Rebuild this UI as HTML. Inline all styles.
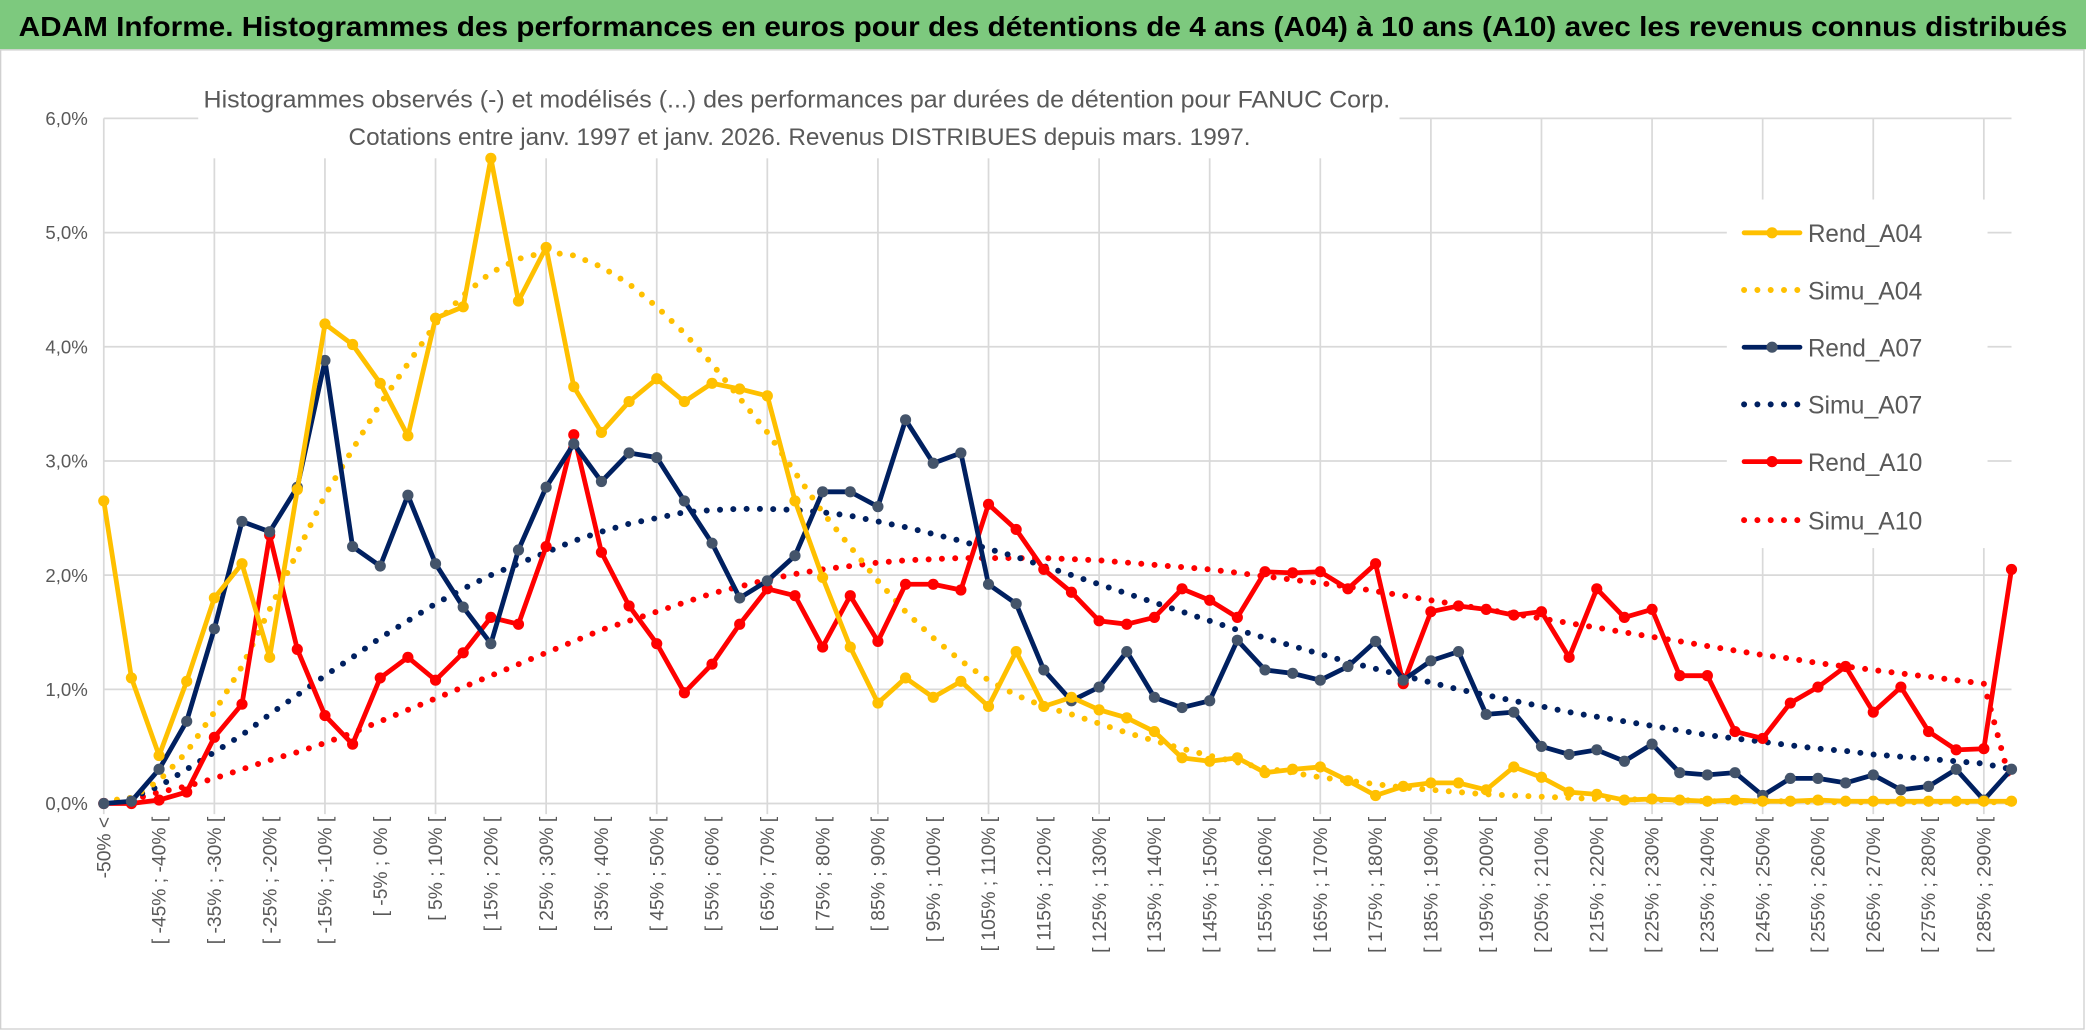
<!DOCTYPE html>
<html><head><meta charset="utf-8"><style>
html,body{margin:0;padding:0;background:#fff;}
svg{display:block;font-family:"Liberation Sans",sans-serif;}
</style></head><body>
<svg id="chart" width="2086" height="1031" viewBox="0 0 1568 775" preserveAspectRatio="none" xmlns="http://www.w3.org/2000/svg">
<rect x="0" y="0" width="1568" height="775" fill="#fff"/>
<rect x="0" y="0" width="1568" height="37" fill="#7DC97E"/>
<text x="14" y="27" font-size="21" font-weight="bold" fill="#000" textLength="1540" lengthAdjust="spacingAndGlyphs">ADAM Informe. Histogrammes des performances en euros pour des détentions de 4 ans (A04) à 10 ans (A10) avec les revenus connus distribués</text>
<rect x="0.5" y="37.5" width="1566" height="736" fill="none" stroke="#d0d0d0" stroke-width="1"/>
<g id="grid"></g>
<g id="yaxis"></g>
<g id="xaxis"></g>
<rect x="149" y="58" width="903" height="61" fill="#fff"/>
<text x="153" y="81" font-size="18" fill="#595959" textLength="892" lengthAdjust="spacingAndGlyphs">Histogrammes observés (-) et modélisés (...) des performances par durées de détention pour FANUC Corp.</text>
<text x="262" y="109" font-size="18" fill="#595959" textLength="678" lengthAdjust="spacingAndGlyphs">Cotations entre janv. 1997 et janv. 2026. Revenus DISTRIBUES depuis mars. 1997.</text>
<rect x="1298" y="150" width="196" height="262" fill="#fff"/>
<g id="series"></g>
<g id="legend"></g>
</svg>
<script>
const rendA04=[2.65,1.1,0.42,1.07,1.8,2.1,1.28,2.75,4.2,4.02,3.68,3.22,4.25,4.35,5.65,4.4,4.87,3.65,3.25,3.52,3.72,3.52,3.68,3.63,3.57,2.65,1.98,1.37,0.88,1.1,0.93,1.07,0.85,1.33,0.85,0.93,0.82,0.75,0.63,0.4,0.37,0.4,0.27,0.3,0.32,0.2,0.07,0.15,0.18,0.18,0.12,0.32,0.23,0.1,0.08,0.03,0.04,0.03,0.02,0.03,0.02,0.02,0.03,0.02,0.02,0.02,0.02,0.02,0.02,0.02];
const simuA04=[0.02,0.05,0.2,0.45,0.8,1.2,1.7,2.2,2.7,3.1,3.5,3.85,4.2,4.45,4.65,4.77,4.83,4.8,4.7,4.55,4.35,4.12,3.85,3.55,3.25,2.9,2.55,2.25,1.95,1.68,1.45,1.25,1.08,0.95,0.85,0.78,0.7,0.62,0.55,0.48,0.42,0.36,0.31,0.27,0.23,0.2,0.17,0.14,0.12,0.1,0.08,0.07,0.06,0.05,0.04,0.04,0.03,0.03,0.02,0.02,0.02,0.02,0.01,0.01,0.01,0.01,0.01,0.01,0.01,0.01];
const rendA07=[0.0,0.02,0.3,0.72,1.53,2.47,2.38,2.77,3.88,2.25,2.08,2.7,2.1,1.72,1.4,2.22,2.77,3.15,2.82,3.07,3.03,2.65,2.28,1.8,1.95,2.17,2.73,2.73,2.6,3.36,2.98,3.07,1.92,1.75,1.17,0.9,1.02,1.33,0.93,0.84,0.9,1.43,1.17,1.14,1.08,1.2,1.42,1.08,1.25,1.33,0.78,0.8,0.5,0.43,0.47,0.37,0.52,0.27,0.25,0.27,0.07,0.22,0.22,0.18,0.25,0.12,0.15,0.3,0.03,0.3];
const simuA07=[0.0,0.05,0.15,0.3,0.45,0.6,0.78,0.95,1.12,1.28,1.45,1.6,1.75,1.88,2.0,2.1,2.2,2.3,2.38,2.45,2.5,2.55,2.57,2.58,2.58,2.57,2.55,2.52,2.47,2.42,2.36,2.3,2.23,2.16,2.08,2.0,1.92,1.84,1.76,1.68,1.6,1.52,1.45,1.38,1.31,1.24,1.18,1.12,1.06,1.0,0.95,0.9,0.85,0.8,0.76,0.72,0.68,0.64,0.6,0.57,0.54,0.51,0.48,0.46,0.43,0.41,0.39,0.37,0.35,0.3];
const rendA10=[0.0,0.0,0.03,0.1,0.58,0.87,2.35,1.35,0.77,0.52,1.1,1.28,1.08,1.32,1.63,1.57,2.25,3.23,2.2,1.73,1.4,0.97,1.22,1.57,1.88,1.82,1.37,1.82,1.42,1.92,1.92,1.87,2.62,2.4,2.05,1.85,1.6,1.57,1.63,1.88,1.78,1.63,2.03,2.02,2.03,1.88,2.1,1.05,1.68,1.73,1.7,1.65,1.68,1.28,1.88,1.63,1.7,1.12,1.12,0.63,0.57,0.88,1.02,1.2,0.8,1.02,0.63,0.47,0.48,2.05];
const simuA10=[0.0,0.03,0.1,0.15,0.22,0.3,0.38,0.45,0.53,0.62,0.72,0.82,0.92,1.02,1.12,1.22,1.32,1.42,1.52,1.6,1.68,1.76,1.84,1.9,1.96,2.01,2.05,2.08,2.11,2.13,2.14,2.15,2.15,2.15,2.15,2.14,2.13,2.11,2.09,2.07,2.05,2.02,1.99,1.96,1.93,1.9,1.86,1.82,1.78,1.74,1.7,1.66,1.62,1.58,1.54,1.5,1.46,1.42,1.38,1.34,1.3,1.27,1.23,1.2,1.17,1.14,1.11,1.08,1.05,0.15];
const yTicks=[0,1,2,3,4,5,6];
const yTickLabels=["0,0%","1,0%","2,0%","3,0%","4,0%","5,0%","6,0%"];
const legendNames=["Rend_A04","Simu_A04","Rend_A07","Simu_A07","Rend_A10","Simu_A10"];

const NS="http://www.w3.org/2000/svg";
const N=rendA04.length;
const X0=78,X1=1512,Y0=604,Y6=89;
function xs(i){return X0+(X1-X0)*i/(N-1);}
function ys(v){return Y0-(Y0-Y6)*v/6;}
function mk(tag,attrs,parent){const e=document.createElementNS(NS,tag);for(const k in attrs)e.setAttribute(k,attrs[k]);parent.appendChild(e);return e;}
function catLabel(i){if(i===0)return "-50% <";const lo=5*i-55;return "[ "+lo+"% ; "+(lo+5)+"% [";}

const grid=document.getElementById('grid');
yTicks.forEach(t=>{
  const l=mk('line',{x1:X0,x2:X1,y1:ys(t),y2:ys(t),stroke:'#d9d9d9','stroke-width':1.3},grid);
  
  
});
for(let i=0;i<N;i+=4){
  const l=mk('line',{x1:xs(i),x2:xs(i),y1:ys(6),y2:Y0+8,stroke:'#d9d9d9','stroke-width':1.3},grid);
  
  
}
const ya=document.getElementById('yaxis');
yTicks.forEach((t,k)=>{
  const tx=mk('text',{x:66,y:ys(t)+5,'font-size':14,fill:'#595959','text-anchor':'end'},ya);
  tx.textContent=yTickLabels[k];
  
  
});
const xa=document.getElementById('xaxis');
for(let i=0;i<N;i+=2){
  const x=xs(i)+5,y=614;
  const tx=mk('text',{x:x,y:y,'font-size':14.5,fill:'#595959','text-anchor':'end',transform:'rotate(-90 '+x+' '+y+')'},xa);
  tx.textContent=catLabel(i);
  
  
}
const S=document.getElementById('series');
function pts(arr){return arr.map((v,i)=>xs(i).toFixed(1)+','+ys(v).toFixed(1)).join(' ');}
function dotted(arr,color,name){
  const p=mk('polyline',{points:pts(arr),fill:'none',stroke:color,'stroke-width':4.5,'stroke-linecap':'round','stroke-dasharray':'0 10'},S);
  
  
}
function solid(arr,color,mfill,name){
  const g=mk('g',{},S);
  
  
  mk('polyline',{points:pts(arr),fill:'none',stroke:color,'stroke-width':3.6,'stroke-linejoin':'round'},g);
  arr.forEach((v,i)=>{
    const c=mk('circle',{cx:xs(i),cy:ys(v),r:4.2,fill:mfill},g);
    
    
  });
}
dotted(simuA10,'#FF0000','simu-a10-line');
dotted(simuA07,'#002060','simu-a07-line');
dotted(simuA04,'#FFC000','simu-a04-line');
solid(rendA10,'#FF0000','#FF0000','rend-a10-line');
solid(rendA07,'#002060','#44546A','rend-a07-line');
solid(rendA04,'#FFC000','#FFC000','rend-a04-line');

const L=document.getElementById('legend');
const lc=['#FFC000','#FFC000','#002060','#002060','#FF0000','#FF0000'];
const lm=['#FFC000',null,'#44546A',null,'#FF0000',null];
const ly=[175,218,261,304,347,391];
legendNames.forEach((n,k)=>{
  const g=mk('g',{},L);
  
  
  if(k%2===0){
    mk('line',{x1:1311,x2:1353,y1:ly[k],y2:ly[k],stroke:lc[k],'stroke-width':3.6,'stroke-linecap':'round'},g);
    mk('circle',{cx:1332,cy:ly[k],r:4.2,fill:lm[k]},g);
  } else {
    mk('line',{x1:1311,x2:1354,y1:ly[k],y2:ly[k],stroke:lc[k],'stroke-width':4.5,'stroke-linecap':'round','stroke-dasharray':'0 10'},g);
  }
  const t=mk('text',{x:1359,y:ly[k]+7,'font-size':19,fill:'#595959',textLength:86,lengthAdjust:'spacingAndGlyphs'},g);
  t.textContent=n;
});
</script>
</body></html>
